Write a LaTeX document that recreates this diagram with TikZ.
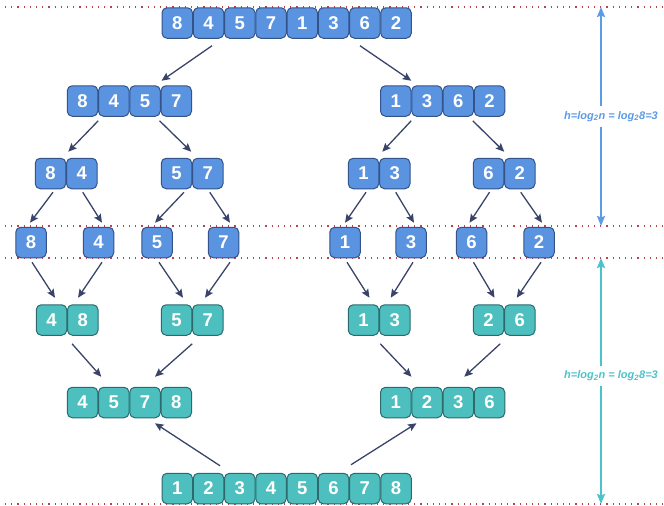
\documentclass[tikz,border=0pt]{standalone}
\usepackage{fontspec}
\setmainfont{Liberation Sans}
\usetikzlibrary{arrows.meta,calc}
\definecolor{splitfill}{HTML}{5A93E0}
\definecolor{splitline}{HTML}{34538A}
\definecolor{mergefill}{HTML}{4DBFBF}
\definecolor{mergeline}{HTML}{2C6A6E}
\definecolor{flow}{HTML}{3A4468}
\definecolor{levelsep}{HTML}{B8434A}
\definecolor{splitarrow}{HTML}{5C9BE6}
\definecolor{mergearrow}{HTML}{4CC3CB}
\tikzset{
  cell/.style={minimum width=30.5pt, minimum height=30.5pt, inner sep=0pt,
    rounded corners=5pt, line width=1pt, text=white,
    font=\fontsize{18.5}{18.5}\selectfont\bfseries},
  bcell/.style={cell, draw=splitline, fill=splitfill},
  tcell/.style={cell, draw=mergeline, fill=mergefill},
  flowarrow/.style={draw=flow, line width=1.3pt,
    -{Stealth[length=8.5pt, width=7.5pt, inset=1.5pt]}},
  heightarrow/.style={line width=2pt,
    {Stealth[length=10pt, width=8pt, inset=1.5pt]}-{Stealth[length=10pt, width=8pt, inset=1.5pt]}},
  heightlabel/.style={fill=white, inner xsep=1pt, inner ysep=5pt, xshift=10pt,
    font=\fontsize{11}{12}\selectfont\bfseries\itshape},
  sepline/.style={draw=levelsep, line width=1.2pt, dash pattern=on 1.2pt off 5pt},
}
\begin{document}
\begin{tikzpicture}[x=1pt, y=-1pt]
\useasboundingbox (0,0) rectangle (664,506);

% level separators
\draw[sepline] (5,7) -- (664,7);
\draw[sepline] (5,226) -- (664,226);
\draw[sepline] (5,258) -- (664,258);
\draw[sepline] (5,504) -- (664,504);

% splitting phase
\foreach \v [count=\i] in {8,4,5,7,1,3,6,2}
  \node[bcell] (t\i) at ({177.25+31.25*(\i-1)},23) {\v};
\foreach \v [count=\i] in {8,4,5,7}
  \node[bcell] (a\i) at ({82.5+31.25*(\i-1)},101) {\v};
\foreach \v [count=\i] in {1,3,6,2}
  \node[bcell] (b\i) at ({395.75+31.25*(\i-1)},101) {\v};
\foreach \v [count=\i] in {8,4}
  \node[bcell] (c\i) at ({50.5+31.25*(\i-1)},173.5) {\v};
\foreach \v [count=\i] in {5,7}
  \node[bcell] (d\i) at ({176.5+31.25*(\i-1)},173.5) {\v};
\foreach \v [count=\i] in {1,3}
  \node[bcell] (e\i) at ({363.5+31.25*(\i-1)},173.5) {\v};
\foreach \v [count=\i] in {6,2}
  \node[bcell] (f\i) at ({488.5+31.25*(\i-1)},173.5) {\v};
\foreach \v/\x [count=\i] in {8/31,4/98.5,5/157,7/223.5,1/345,3/411,6/471.5,2/539}
  \node[bcell] (s\i) at (\x,242.5) {\v};

% merging phase
\foreach \v [count=\i] in {4,8}
  \node[tcell] (g\i) at ({51.5+31.25*(\i-1)},320) {\v};
\foreach \v [count=\i] in {5,7}
  \node[tcell] (h\i) at ({176.5+31.25*(\i-1)},320) {\v};
\foreach \v [count=\i] in {1,3}
  \node[tcell] (i\i) at ({363.5+31.25*(\i-1)},320) {\v};
\foreach \v [count=\i] in {2,6}
  \node[tcell] (j\i) at ({488.5+31.25*(\i-1)},320) {\v};
\foreach \v [count=\i] in {4,5,7,8}
  \node[tcell] (k\i) at ({82.5+31.25*(\i-1)},402.5) {\v};
\foreach \v [count=\i] in {1,2,3,6}
  \node[tcell] (l\i) at ({395.75+31.25*(\i-1)},402.5) {\v};
\foreach \v [count=\i] in {1,2,3,4,5,6,7,8}
  \node[tcell] (m\i) at ({177.25+31.25*(\i-1)},488.5) {\v};

% split arrows
\draw[flowarrow] ($(t2.south)+(3.5,7)$) -- ($(a4.north west)+(1,-4.5)$);
\draw[flowarrow] ($(t7.south)+(-4.75,7)$) -- ($(b2.north west)+(0,-4.5)$);
\draw[flowarrow] ($(a1.south east)+(0,4)$) -- ($(c1.north east)+(2,-6)$);
\draw[flowarrow] ($(a4.south west)+(-1,4)$) -- ($(d1.north east)+(-1,-6)$);
\draw[flowarrow] ($(b2.south west)+(0,4)$) -- ($(e1.north east)+(3,-6)$);
\draw[flowarrow] ($(b4.south west)+(-1,4)$) -- ($(f1.north east)+(0,-6)$);
\draw[flowarrow] ($(c1.south)+(2.5,3)$) -- ($(s1.north)+(-1,-4)$);
\draw[flowarrow] ($(c2.south)+(1,3)$) -- ($(s2.north)+(3.5,-4)$);
\draw[flowarrow] ($(d1.south)+(7.5,3)$) -- ($(s3.north)+(-2,-4)$);
\draw[flowarrow] ($(d2.south)+(2,3)$) -- ($(s4.north)+(6.5,-4)$);
\draw[flowarrow] ($(e1.south)+(2.5,3)$) -- ($(s5.north)+(0,-4)$);
\draw[flowarrow] ($(e2.south)+(1,3)$) -- ($(s6.north)+(3,-4)$);
\draw[flowarrow] ($(f1.south)+(1,3)$) -- ($(s7.north)+(-2,-4)$);
\draw[flowarrow] ($(f2.south)+(1,3)$) -- ($(s8.north)+(3,-4)$);

% merge arrows
\draw[flowarrow] ($(s1.south)+(1,4)$) -- ($(g1.north)+(3.5,-6.5)$);
\draw[flowarrow] ($(s2.south)+(3.5,4)$) -- ($(g2.north)+(-4.75,-6.5)$);
\draw[flowarrow] ($(s3.south)+(2,4)$) -- ($(h1.north)+(6.5,-6.5)$);
\draw[flowarrow] ($(s4.south)+(6.5,4)$) -- ($(h2.north)+(-2.75,-6.5)$);
\draw[flowarrow] ($(s5.south)+(2,4)$) -- ($(i1.north)+(6,-6.5)$);
\draw[flowarrow] ($(s6.south)+(2,4)$) -- ($(i2.north)+(-4,-6.5)$);
\draw[flowarrow] ($(s7.south)+(2,4)$) -- ($(j1.north)+(6,-6.5)$);
\draw[flowarrow] ($(s8.south)+(2,4)$) -- ($(j2.north)+(-3,-6.5)$);
\draw[flowarrow] ($(g2.south west)+(5,8)$) -- ($(k2.north)+(-12.5,-10)$);
\draw[flowarrow] ($(h1.south east)+(0,8)$) -- ($(k3.north)+(10,-10)$);
\draw[flowarrow] ($(i1.south east)+(1,8)$) -- ($(l1.north east)+(0,-10)$);
\draw[flowarrow] ($(j1.south east)+(-4,8)$) -- ($(l3.north)+(6,-10)$);
\draw[flowarrow] ($(m2.north)+(11.5,-7)$) -- ($(k3.south)+(10,5)$);
\draw[flowarrow] ($(m7.north)+(-13.75,-8)$) -- ($(l2.south)+(-10.5,5)$);

% tree heights
\coordinate (htop) at (601,7);
\coordinate (hmid) at (601,226);
\coordinate (hlow) at (601,258);
\coordinate (hbot) at (601,504);
\draw[heightarrow, draw=splitarrow, fill=splitarrow] (htop) -- (hmid)
  node[heightlabel, text=splitarrow, midway] (hsplit) {h=log\textsubscript{2}n = log\textsubscript{2}8=3};
\draw[heightarrow, draw=mergearrow, fill=mergearrow] (hlow) -- (hbot)
  node[heightlabel, text=mergearrow, pos=0.48] (hmerge) {h=log\textsubscript{2}n = log\textsubscript{2}8=3};
\end{tikzpicture}
\end{document}
